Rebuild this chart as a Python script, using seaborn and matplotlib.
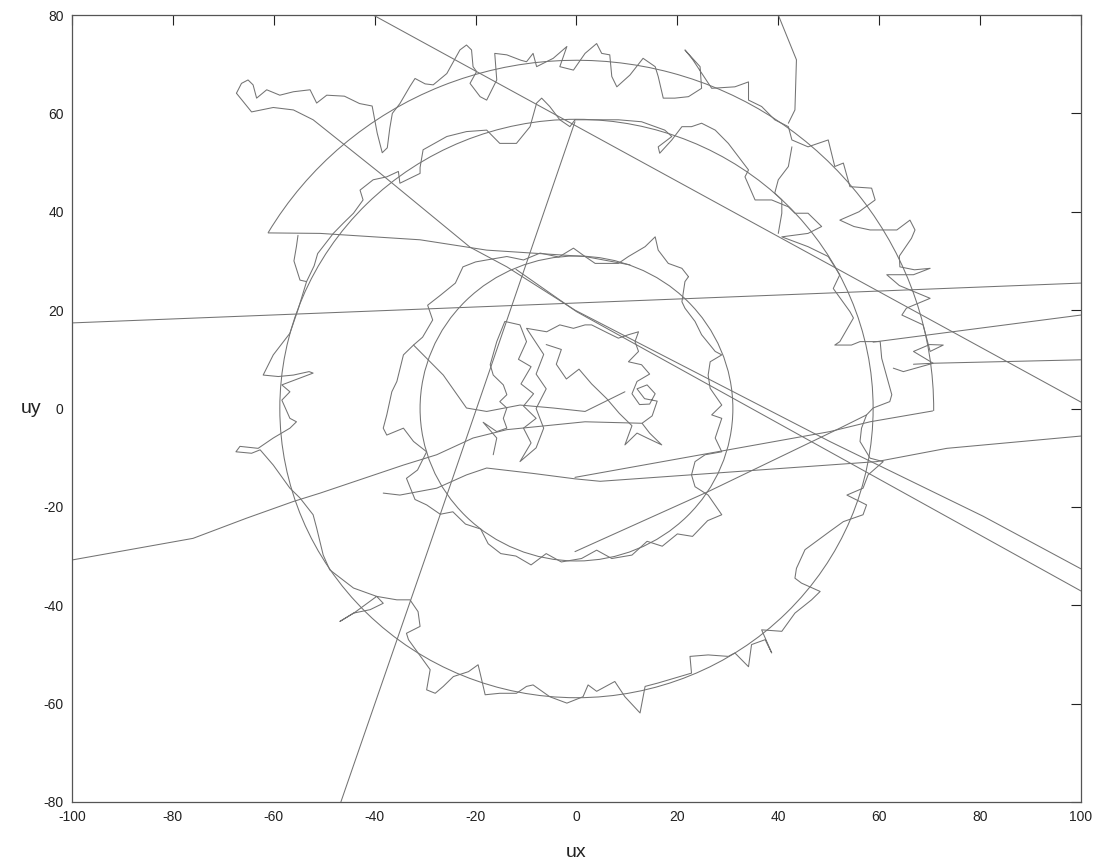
import matplotlib
matplotlib.use("Agg")
import matplotlib.pyplot as plt
from matplotlib.patches import Circle, Arc
import pandas as pd
import seaborn as sns

# ---- trajectory data (ux, uy) ----
outer_ring = [(-67.4, 64.1), (-66.4, 66.1), (-65.1, 66.8), (-64.1, 65.8), (-63.4, 63.1), (-61.4, 64.8),
              (-58.8, 63.7), (-56.1, 64.4), (-52.8, 64.8), (-51.5, 62.1), (-49.5, 63.7), (-46.0, 63.5),
              (-43.0, 62.0), (-40.5, 61.5), (-39.5, 56.0), (-38.5, 52.0), (-37.5, 53.0), (-37.0, 57.0),
              (-36.5, 60.0), (-35.0, 62.0), (-33.0, 65.5), (-32.0, 67.1), (-30.0, 66.0), (-28.4, 65.8),
              (-25.7, 68.1), (-23.1, 72.9), (-21.8, 73.9), (-20.8, 72.9), (-20.5, 69.5), (-19.8, 68.5),
              (-21.1, 66.1), (-19.1, 63.4), (-17.8, 62.7), (-15.8, 66.8), (-16.2, 72.2), (-13.8, 71.9),
              (-11.0, 70.8), (-9.9, 70.5), (-8.6, 72.2), (-7.9, 69.5), (-4.6, 71.2), (-1.9, 73.6),
              (-3.3, 69.5), (-0.6, 68.8), (1.7, 72.2), (4.0, 74.2), (5.0, 72.2), (6.6, 71.9), (7.0, 67.5),
              (8.0, 65.4), (10.6, 67.8), (13.2, 71.2), (15.6, 69.5), (16.2, 67.5), (17.2, 63.1),
              (19.5, 63.1), (22.2, 63.4), (24.8, 65.1), (24.5, 69.5), (21.5, 72.9), (23.0, 71.0),
              (26.8, 65.1), (31.4, 65.4), (34.1, 66.4), (34.1, 62.7), (36.7, 61.4), (39.3, 58.7),
              (42.0, 57.3), (42.7, 54.6), (45.9, 53.2), (49.9, 54.6), (51.2, 49.2), (52.9, 49.9),
              (54.2, 45.1), (58.5, 44.8), (59.2, 42.4), (56.0, 40.0), (52.2, 38.3), (55.0, 37.0),
              (58.2, 36.3), (63.5, 36.3), (66.1, 38.3), (67.1, 36.3), (66.4, 34.6), (64.0, 31.0),
              (64.1, 28.8), (67.0, 28.2), (70.1, 28.5), (66.8, 27.2), (61.5, 27.2), (64.0, 25.0),
              (70.1, 22.4), (65.4, 20.4), (64.5, 19.0), (68.7, 17.0), (70.1, 11.6), (72.7, 12.9),
              (70.0, 13.0), (66.8, 11.6), (70.7, 9.2), (64.8, 7.5), (62.8, 8.2)]

middle_ring = [(-0.3, 58.7), (-1.3, 57.3), (-3.3, 58.7), (-5.3, 61.4), (-6.9, 63.1), (-7.9, 62.1),
               (-9.2, 57.3), (-11.9, 53.9), (-15.2, 53.9), (-17.8, 56.6), (-21.8, 56.3), (-25.7, 55.3),
               (-30.4, 52.6), (-31.0, 49.0), (-31.0, 47.8), (-35.0, 45.8), (-35.3, 48.2), (-37.6, 47.1),
               (-40.3, 46.5), (-42.9, 44.4), (-42.3, 42.4), (-44.2, 39.7), (-46.2, 37.7), (-48.2, 35.6),
               (-51.3, 31.5), (-52.0, 29.0), (-53.5, 25.8), (-55.1, 20.4), (-56.8, 15.3), (-60.1, 10.9),
               (-62.1, 6.8), (-59.1, 6.5), (-56.1, 6.8), (-53.0, 7.5), (-52.2, 7.2), (-54.0, 6.5),
               (-58.4, 4.8), (-56.8, 3.4), (-58.4, 1.7), (-56.8, -2.0), (-55.5, -2.7), (-56.8, -4.0),
               (-60.1, -6.0), (-63.1, -8.1), (-66.7, -7.7), (-67.5, -8.8), (-64.4, -9.1), (-62.7, -8.4),
               (-60.1, -11.5), (-56.8, -16.2), (-54.8, -18.2), (-52.2, -21.6), (-51.5, -24.3),
               (-50.2, -29.8), (-48.9, -32.8), (-44.2, -36.5), (-39.6, -38.2), (-38.3, -39.6),
               (-40.9, -40.9), (-44.2, -41.6), (-46.9, -43.3), (-44.0, -41.5), (-39.6, -38.2),
               (-35.6, -38.9), (-33.0, -38.9), (-31.4, -41.3), (-31.0, -44.3), (-33.7, -45.7),
               (-33.3, -47.0), (-30.4, -51.1), (-29.0, -53.1), (-29.7, -57.2), (-28.0, -57.9),
               (-26.4, -56.5), (-24.4, -54.5), (-21.4, -53.5), (-19.5, -52.1), (-19.1, -53.8),
               (-18.1, -58.2), (-15.2, -57.9), (-11.9, -57.9), (-9.9, -56.5), (-8.6, -56.2),
               (-5.3, -58.6), (-1.9, -59.9), (1.3, -58.6), (2.3, -56.2), (4.0, -57.5), (7.6, -55.5),
               (9.6, -58.6), (12.6, -61.9), (13.6, -56.5), (16.2, -55.8), (19.5, -54.8), (22.8, -53.8),
               (22.5, -50.4), (26.1, -50.1), (30.1, -50.4), (31.4, -49.7), (34.1, -52.5), (34.7, -48.0),
               (37.4, -47.0), (38.7, -49.7), (36.7, -45.0), (40.7, -45.3), (43.3, -41.6), (46.6, -38.9),
               (48.3, -37.2), (44.6, -35.5), (43.3, -34.5), (43.6, -32.5), (45.3, -28.7), (50.2, -25.0),
               (52.9, -23.0), (56.8, -21.6), (57.5, -19.6), (53.6, -17.6), (56.8, -16.2), (57.8, -13.5),
               (60.8, -10.8), (58.2, -10.1), (56.2, -6.7), (56.5, -4.0), (57.5, -1.3), (58.8, 0.1),
               (62.1, 1.4), (62.5, 2.8), (60.5, 10.2), (60.2, 13.6), (56.2, 13.6), (54.5, 12.9),
               (51.2, 12.9), (52.2, 13.6), (54.9, 18.4), (54.2, 19.7), (50.9, 24.4), (52.2, 27.2),
               (49.9, 30.9), (45.9, 32.9), (40.7, 34.9), (45.9, 35.6), (48.6, 37.0), (45.9, 39.7),
               (43.3, 39.7), (42.0, 41.0), (38.7, 42.4), (35.4, 42.4), (33.4, 47.1), (34.1, 48.5),
               (30.1, 53.9), (27.5, 56.6), (24.8, 58.0), (22.8, 57.3), (20.9, 57.3), (18.9, 54.6),
               (16.5, 51.9), (16.2, 53.2), (18.9, 55.3), (17.5, 56.6), (12.9, 58.3), (8.3, 58.7),
               (3.0, 58.7), (-0.3, 58.7)]

inner_ring = [(22.2, 26.8), (21.5, 25.8), (20.9, 21.7), (21.5, 20.4), (23.5, 17.7), (24.8, 15.0),
              (27.5, 11.6), (28.8, 10.9), (26.5, 9.5), (26.1, 6.8), (26.5, 4.1), (28.8, 0.7),
              (26.8, -1.3), (28.8, -2.0), (27.5, -6.0), (28.8, -8.8), (25.5, -9.4), (23.5, -10.8),
              (22.8, -13.5), (23.5, -15.9), (26.1, -17.6), (28.8, -21.6), (26.0, -22.8), (23.0, -26.0),
              (20.0, -25.5), (17.0, -28.0), (14.0, -27.0), (11.0, -29.8), (7.0, -30.5), (4.0, -28.8),
              (1.0, -30.5), (-3.0, -31.2), (-6.0, -29.5), (-9.0, -31.8), (-12.0, -30.0), (-15.0, -29.5),
              (-17.5, -27.5), (-19.0, -24.5), (-22.0, -23.5), (-24.5, -21.0), (-27.0, -21.5),
              (-29.7, -19.6), (-32.0, -18.5), (-33.7, -14.2), (-31.5, -12.5), (-29.7, -8.8),
              (-32.3, -6.7), (-34.3, -4.0), (-37.6, -5.4), (-38.3, -4.0), (-37.6, -1.3), (-36.6, 3.4),
              (-35.6, 5.5), (-34.3, 10.9), (-32.3, 12.9), (-30.5, 14.5), (-28.5, 18.0), (-29.5, 21.0),
              (-27.0, 23.0), (-24.0, 25.5), (-22.5, 28.8), (-20.0, 29.8), (-17.8, 30.2), (-13.8, 30.9),
              (-10.5, 30.2), (-7.2, 31.6), (-3.5, 30.8), (-0.6, 32.6), (1.7, 30.9), (3.7, 29.5),
              (8.3, 29.5), (10.3, 30.9), (13.6, 32.9), (15.6, 34.9), (16.2, 32.2), (18.2, 29.5),
              (20.9, 28.5), (22.2, 26.8)]

core_tangle = [(-16.5, -9.4), (-15.8, -6.0), (-18.5, -2.8), (-15.8, -4.7), (-13.8, -4.0), (-14.5, -2.0),
               (-13.8, 0.1), (-15.2, 1.4), (-13.8, 2.8), (-14.5, 4.8), (-16.5, 6.8), (-17.1, 8.9),
               (-15.8, 13.6), (-14.2, 17.7), (-11.2, 17.0), (-9.9, 13.6), (-11.5, 10.0), (-9.0, 8.5),
               (-11.0, 5.0), (-8.5, 3.0), (-10.5, 0.5), (-8.0, -2.0), (-10.5, -4.0), (-9.0, -7.0),
               (-11.2, -10.8), (-8.0, -8.0), (-6.5, -4.0), (-8.0, 0.0), (-6.0, 4.0), (-8.0, 7.0),
               (-6.5, 11.0), (-9.9, 16.3), (-5.9, 15.6), (-3.3, 17.0), (-0.6, 16.3), (1.7, 17.0),
               (3.0, 17.0), (6.3, 15.3), (8.3, 14.3), (10.3, 15.0), (12.3, 15.6), (11.6, 13.6),
               (12.3, 11.6), (10.3, 9.5), (12.9, 8.9), (14.5, 7.0), (12.0, 5.5), (11.0, 3.0),
               (12.5, 0.8), (14.5, 0.9), (15.6, 3.0), (14.0, 4.8), (12.0, 4.0), (13.5, 2.0),
               (16.0, 1.5), (15.0, -1.5), (13.0, -3.0), (14.5, -5.0), (16.9, -7.4), (14.0, -6.0),
               (12.0, -5.0), (9.6, -7.4), (11.0, -3.5), (8.5, -1.0), (6.0, 2.0), (3.0, 5.0),
               (0.5, 8.0), (-2.0, 6.0), (-4.0, 9.0), (-3.0, 12.0), (-6.0, 13.0)]

# long excursions and jumps between the rings
jump_a = [(-40.3, 80.0), (100.0, 1.3)]
jump_b = [(-100.0, 17.4), (100.0, 25.5)]
jump_c = [(-46.7, -80.0), (-29.4, -28.7), (-0.3, 58.3)]
sweep_1 = [(100.0, -32.6), (80.6, -21.9), (50.2, -6.7), (-0.3, 20.0), (-13.8, 28.8), (-21.1, 32.8),
           (-39.0, 47.9), (-48.9, 56.0), (-52.2, 58.7), (-56.1, 60.7), (-60.1, 61.2), (-64.4, 60.3),
           (-67.4, 64.1)]
sweep_2 = [(100.0, -37.1), (50.2, -8.8), (0.0, 19.7), (-12.0, 28.3)]
chord_top = [(-61.1, 35.7), (-50.8, 35.6), (-31.0, 34.3), (-17.8, 32.2), (1.7, 30.9), (10.6, 29.2)]
drop_left = [(-55.2, 35.2), (-55.5, 33.0), (-56.0, 30.0), (-54.8, 26.1), (-53.5, 25.8)]
chord_e = [(70.6, -0.5), (58.2, -2.7), (50.2, -4.7), (-0.3, -14.0)]
chord_f = [(100.0, -5.6), (73.4, -8.1), (59.5, -10.8), (4.7, -14.8), (-0.3, -14.3), (-8.6, -13.2),
           (-17.8, -12.1), (-21.8, -13.5), (-27.7, -16.2), (-35.0, -17.6), (-38.3, -17.2)]
chord_g = [(-100.0, -30.8), (-76.0, -26.4), (-65.4, -22.3), (-56.1, -18.9), (-50.8, -17.2),
           (-34.3, -11.5), (-27.7, -9.4), (-20.5, -6.0), (-13.8, -4.3), (1.7, -2.7), (12.9, -3.0)]
chord_k = [(-0.3, -29.1), (26.1, -16.9), (52.2, -4.0), (57.5, -1.3)]
exit_i = [(58.8, 13.5), (100.0, 19.0)]
exit_j = [(66.8, 9.0), (70.7, 9.2), (100.0, 9.9)]
entry_top = [(40.0, 80.0), (43.6, 70.9), (43.3, 60.7), (42.0, 58.0)]
link_v = [(42.7, 53.2), (42.0, 49.2), (40.0, 46.5), (39.3, 43.8), (40.7, 42.4), (40.7, 39.7), (40.0, 35.6)]
cross_l = [(-32.3, 12.9), (-26.4, 6.8), (-21.8, 0.1), (-17.8, -0.6), (-11.2, 0.7), (-4.6, 0.1),
           (1.7, -0.6), (9.6, 3.4)]

# reference circles: (centre x, centre y, radius)
circle_mid = (0.0, 0.0, 58.8)
circle_inner = (0.0, 0.0, 31.0)
# reference arc: (radius, start angle, end angle) in degrees
arc_outer = (70.8, -0.4, 149.7)

x_ticks = list(range(-100, 101, 20))
y_ticks = list(range(-80, 81, 20))

paths = {
    "outer_ring": outer_ring, "middle_ring": middle_ring, "inner_ring": inner_ring,
    "core_tangle": core_tangle, "jump_a": jump_a, "jump_b": jump_b, "jump_c": jump_c,
    "sweep_1": sweep_1, "sweep_2": sweep_2, "chord_top": chord_top, "drop_left": drop_left,
    "chord_e": chord_e, "chord_f": chord_f, "chord_g": chord_g, "chord_k": chord_k,
    "exit_i": exit_i, "exit_j": exit_j, "entry_top": entry_top, "link_v": link_v,
    "cross_l": cross_l,
}
rows = [(name, i, x, y) for name, pts in paths.items() for i, (x, y) in enumerate(pts)]
df = pd.DataFrame(rows, columns=["path", "step", "ux", "uy"])

sns.set_style("white")
plt.rcParams["font.family"] = ["Liberation Sans", "DejaVu Sans"]
plt.rcParams["axes.unicode_minus"] = False

LINE = "#737373"
fig = plt.figure(figsize=(10.97, 8.63), dpi=100)
ax = fig.add_axes([0.0656, 0.0707, 0.9198, 0.9119])

sns.lineplot(data=df, x="ux", y="uy", units="path", estimator=None, sort=False,
             color=LINE, lw=0.75, legend=False, ax=ax)

for cx, cy, r in (circle_mid, circle_inner):
    ax.add_patch(Circle((cx, cy), r, fill=False, ec=LINE, lw=0.75))
r_arc, t1, t2 = arc_outer
ax.add_patch(Arc((0, 0), 2 * r_arc, 2 * r_arc, theta1=t1, theta2=t2, ec=LINE, lw=0.75))

ax.set_xlim(-100, 100)
ax.set_ylim(-80, 80)
ax.set_xticks(x_ticks)
ax.set_yticks(y_ticks)
ax.tick_params(direction="in", length=7, width=0.8, top=True, right=True,
               labelsize=10, colors="#222222", pad=6)
for s in ax.spines.values():
    s.set_color("#555555")
    s.set_linewidth(0.9)

ax.set_xlabel("ux", fontsize=14, color="#222222", labelpad=14)
ax.set_ylabel("uy", fontsize=14, color="#222222", rotation=0, va="center", ha="center")
ax.yaxis.set_label_coords(-0.041, 0.5)

fig.savefig("out.png", dpi=100)
